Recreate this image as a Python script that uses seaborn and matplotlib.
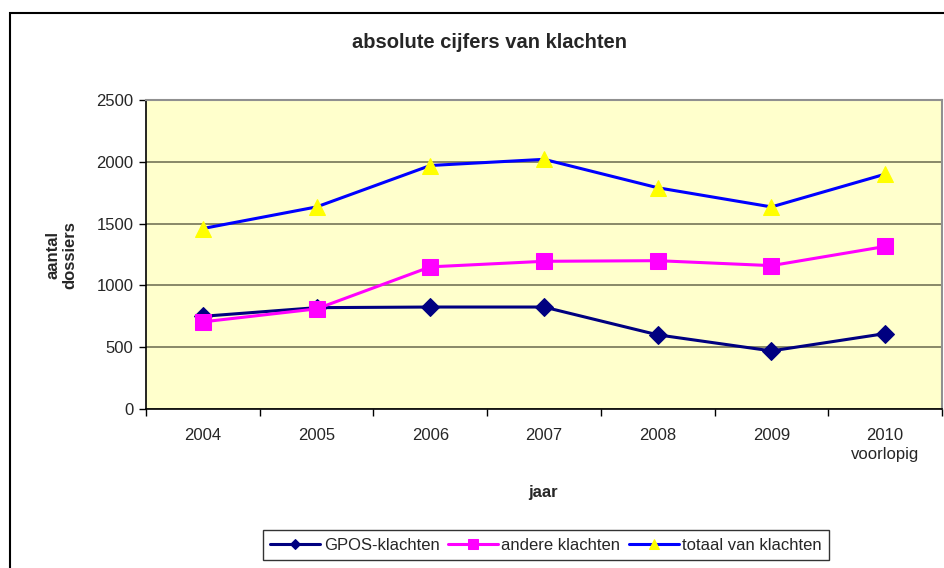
import matplotlib
matplotlib.use("Agg")
import matplotlib.pyplot as plt
import seaborn as sns
import pandas as pd
from matplotlib.patches import Rectangle
from matplotlib.ticker import FixedLocator

years = ["2004", "2005", "2006", "2007", "2008", "2009", "2010"]
tick_labels = ["2004", "2005", "2006", "2007", "2008", "2009", "2010\nvoorlopig"]
gpos = [750, 820, 825, 825, 600, 470, 610]
andere = [705, 810, 1150, 1195, 1200, 1160, 1315]
totaal = [1460, 1635, 1970, 2020, 1790, 1635, 1900]

series_names = ["GPOS-klachten", "andere klachten", "totaal van klachten"]

sns.set_theme(style="white")
plt.rcParams['font.family'] = ['Liberation Sans', 'DejaVu Sans']

fig = plt.figure(figsize=(9.45, 5.68), dpi=100)
W, H = 945, 568
ax = fig.add_axes([146 / W, 1 - 409 / H, (942 - 146) / W, (409 - 100) / H])
ax.set_facecolor("#FFFFCC")

df = pd.DataFrame({"jaar": years, "GPOS": gpos, "andere": andere, "totaal": totaal})

sns.lineplot(data=df, x="jaar", y="GPOS", ax=ax, color="#000080", lw=2.2,
             marker="D", markersize=9, markerfacecolor="#000080",
             markeredgecolor="#000080", label=series_names[0], sort=False)
sns.lineplot(data=df, x="jaar", y="andere", ax=ax, color="#FF00FF", lw=2.2,
             marker="s", markersize=11, markerfacecolor="#FF00FF",
             markeredgecolor="#FF00FF", label=series_names[1], sort=False)
sns.lineplot(data=df, x="jaar", y="totaal", ax=ax, color="#0000FF", lw=2.2,
             marker="^", markersize=12, markerfacecolor="#FFFF00",
             markeredgecolor="#FFFF00", label=series_names[2], sort=False)

ax.set_xlim(-0.5, len(years) - 0.5)
ax.set_ylim(0, 2500)
ax.set_yticks([0, 500, 1000, 1500, 2000, 2500])
ax.yaxis.grid(True, color="#7F7F60", lw=1.3)
ax.set_axisbelow(True)

ax.set_xticks(range(len(years)))
ax.set_xticklabels(tick_labels, fontsize=12)
ax.xaxis.set_minor_locator(FixedLocator([i - 0.5 for i in range(len(years) + 1)]))
ax.tick_params(axis="x", which="major", length=0, pad=14)
ax.tick_params(axis="x", which="minor", length=5, width=1, color="black", direction="out", bottom=True)
ax.tick_params(axis="y", which="major", length=5, width=1, color="black", direction="out", left=True,
               labelsize=12, pad=4)
for lab in ax.get_xticklabels():
    lab.set_verticalalignment("top")
    lab.set_linespacing(1.3)

for s in ["left", "bottom"]:
    ax.spines[s].set_color("black")
    ax.spines[s].set_linewidth(1.2)
for s in ["top", "right"]:
    ax.spines[s].set_color("#909090")
    ax.spines[s].set_linewidth(1.5)

ax.set_xlabel("")
ax.set_ylabel("")
fig.text(490 / W, 1 - 42 / H, "absolute cijfers van klachten", ha="center", va="center",
         fontsize=14.5, fontweight="bold")
fig.text(61 / W, 1 - 255 / H, "aantal\ndossiers", ha="center", va="center", rotation=90,
         fontsize=12, fontweight="bold", linespacing=1.15)
fig.text(543 / W, 1 - 492 / H, "jaar", ha="center", va="center", fontsize=12, fontweight="bold")

leg = ax.legend(loc="center", bbox_to_anchor=(546 / W, 1 - 545 / H), bbox_transform=fig.transFigure,
                ncol=3, frameon=True, fancybox=False, fontsize=12, handlelength=3.0,
                handletextpad=0.2, columnspacing=0.5, borderpad=0.45, markerscale=0.6)
leg.get_frame().set_edgecolor("black")
leg.get_frame().set_linewidth(1.0)

fig.patches.append(Rectangle((10 / W, -0.05), 1.0, 1 - 13 / H + 0.05, transform=fig.transFigure,
                             fill=False, edgecolor="black", lw=1.5, zorder=0))

fig.savefig("out.png", dpi=100)
